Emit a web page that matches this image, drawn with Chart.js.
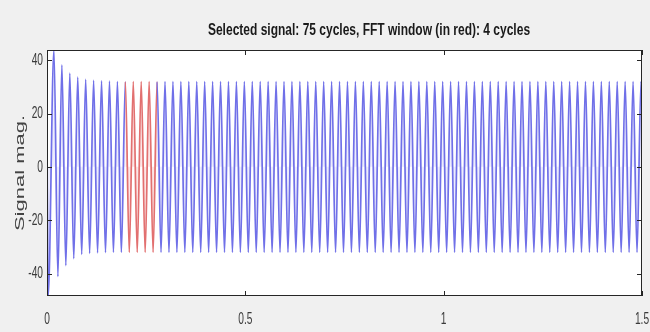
<!DOCTYPE html>
<html><head><meta charset="utf-8">
<script src="https://cdn.jsdelivr.net/npm/chart.js@4"></script>
<style>html,body{margin:0;padding:0;background:#f0f0f0;overflow:hidden}canvas{display:block}</style>
</head><body>
<canvas id="c" width="650" height="332"></canvas>
<script>
// ---- data ----
const titleText = 'Selected signal: 75 cycles, FFT window (in red): 4 cycles';
const yAxisLabel = 'Signal mag.';
const xTickValues = [0, 0.5, 1, 1.5];
const xTickLabels = ['0', '0.5', '1', '1.5'];
const yTickValues = [-40, -20, 0, 20, 40];
const yTickLabels = ['-40', '-20', '0', '20', '40'];
const xRange = [0, 1.5];
const yRange = [-48.4, 43.8];
const cyclePeriod = 0.02;          // 50 Hz, 75 cycles in 1.5 s
const firstPeakTime = 0.0175;
const firstTroughTime = 0.0275;
const fftWindow = [0.2, 0.28];     // 4 cycles drawn in red
const startTimes = [0, 0.003];
const startValues = [5, -48.4];
const peakValues = [
  43.8, 38.2, 35.1, 33.6, 32.8, 32.4, 32.2, 32.1, 32.0, 32.0,
  32, 32, 32, 32, 32, 32, 32, 32, 32, 32,
  32, 32, 32, 32, 32, 32, 32, 32, 32, 32,
  32, 32, 32, 32, 32, 32, 32, 32, 32, 32,
  32, 32, 32, 32, 32, 32, 32, 32, 32, 32,
  32, 32, 32, 32, 32, 32, 32, 32, 32, 32,
  32, 32, 32, 32, 32, 32, 32, 32, 32, 32,
  32, 32, 32, 32, 32
];
const troughValues = [
  -41.1, -37.0, -34.4, -32.8, -32.4, -32.2, -32.1, -32.0, -32.0, -32.0,
  -32, -32, -32, -32, -32, -32, -32, -32, -32, -32,
  -32, -32, -32, -32, -32, -32, -32, -32, -32, -32,
  -32, -32, -32, -32, -32, -32, -32, -32, -32, -32,
  -32, -32, -32, -32, -32, -32, -32, -32, -32, -32,
  -32, -32, -32, -32, -32, -32, -32, -32, -32, -32,
  -32, -32, -32, -32, -32, -32, -32, -32, -32, -32,
  -32, -32, -32, -32
];
const endTime = 1.5, endValue = 27;

// ---- build the point table ----
const points = [];
startTimes.forEach((t, i) => points.push({x: t, y: startValues[i]}));
peakValues.forEach((v, k) => {
  points.push({x: firstPeakTime + k * cyclePeriod, y: v});
  if (k < troughValues.length) points.push({x: firstTroughTime + k * cyclePeriod, y: troughValues[k]});
});
points.push({x: endTime, y: endValue});

const BLUE = '#7070e8';
const RED = '#e27070';
const BLUE_TINT = 'rgba(130,130,240,0.14)';
const RED_TINT = 'rgba(240,130,130,0.2)';

// ---- text squash (reference text is horizontally compressed) ----
const canvas = document.getElementById('c');
const ctx = canvas.getContext('2d');
const nativeFillText = ctx.fillText;
ctx.fillText = function (text, x, y, maxWidth) {
  const s = /bold/.test(this.font) ? 0.75 : 0.6;
  const m = this.getTransform();
  const px = m.a * x + m.c * y + m.e;
  this.save();
  this.setTransform(new DOMMatrix().translate(px, 0).scale(s, 1).translate(-px, 0).multiply(m));
  if (maxWidth === undefined) nativeFillText.call(this, text, x, y);
  else nativeFillText.call(this, text, x, y, maxWidth);
  this.restore();
};

const inWindow = c => {
  const mid = (c.p0.parsed.x + c.p1.parsed.x) / 2;
  return mid >= fftWindow[0] && mid <= fftWindow[1];
};

const frame = {
  id: 'frame',
  afterLayout(chart) {
    if (chart.titleBlock) { chart.titleBlock.left = 88; chart.titleBlock.right = 650; }
  },
  beforeDraw(chart) {
    const {ctx, chartArea: a} = chart;
    ctx.save();
    ctx.fillStyle = '#f0f0f0';
    ctx.fillRect(0, 0, chart.width, chart.height);
    ctx.fillStyle = '#ffffff';
    ctx.fillRect(a.left, a.top, a.right - a.left, a.bottom - a.top);
    ctx.restore();
  },
  afterDatasetsDraw(chart) {
    const {ctx, chartArea: a, scales: {x, y}} = chart;
    ctx.save();
    ctx.strokeStyle = '#262626';
    ctx.lineWidth = 1;
    ctx.beginPath();
    xTickValues.forEach(v => {
      const px = Math.round(x.getPixelForValue(v)) + 0.5;
      ctx.moveTo(px, a.bottom); ctx.lineTo(px, a.bottom - 5);
      ctx.moveTo(px, a.top); ctx.lineTo(px, a.top + 5);
    });
    yTickValues.forEach(v => {
      const py = Math.round(y.getPixelForValue(v)) + 0.5;
      ctx.moveTo(a.left, py); ctx.lineTo(a.left + 5, py);
      ctx.moveTo(a.right, py); ctx.lineTo(a.right - 5, py);
    });
    ctx.stroke();
    ctx.strokeRect(a.left + 0.5, a.top + 0.5, a.right - a.left - 1, a.bottom - a.top - 1);
    ctx.restore();
  }
};

new Chart(ctx, {
  type: 'line',
  data: {
    datasets: [{
      data: points,
      borderColor: BLUE,
      backgroundColor: BLUE_TINT,
      borderWidth: 1.7,
      pointRadius: 0,
      fill: 'origin',
      cubicInterpolationMode: 'monotone',
      segment: {
        borderColor: c => inWindow(c) ? RED : undefined,
        backgroundColor: c => inWindow(c) ? RED_TINT : undefined
      }
    }]
  },
  options: {
    responsive: false,
    devicePixelRatio: 1,
    animation: false,
    layout: {padding: {left: 0, right: 8, top: 0, bottom: 0}},
    plugins: {
      legend: {display: false},
      tooltip: {enabled: false},
      title: {
        display: true,
        text: titleText,
        color: '#1a1a1a',
        font: {family: 'Liberation Sans, Arial, sans-serif', size: 16, weight: 'bold'},
        padding: {top: 21.4, bottom: 9.4}
      }
    },
    scales: {
      x: {
        type: 'linear',
        min: xRange[0], max: xRange[1],
        border: {display: false},
        grid: {display: false, drawTicks: false},
        afterBuildTicks: s => { s.ticks = xTickValues.map(v => ({value: v})); },
        afterFit: s => { s.height = 36; s.paddingLeft = 0; s.paddingRight = 0; },
        ticks: {
          padding: 13,
          maxRotation: 0,
          autoSkip: false,
          color: '#3a3a3a',
          font: {family: 'Liberation Sans, Arial, sans-serif', size: 17},
          callback: (v) => xTickLabels[xTickValues.indexOf(v)]
        }
      },
      y: {
        type: 'linear',
        min: yRange[0], max: yRange[1],
        border: {display: false},
        grid: {display: false, drawTicks: false},
        afterBuildTicks: s => { s.ticks = yTickValues.map(v => ({value: v})); },
        afterFit: s => { s.width = 47; s.paddingTop = 0; s.paddingBottom = 0; },
        ticks: {
          padding: 4,
          autoSkip: false,
          color: '#3a3a3a',
          font: {family: 'Liberation Sans, Arial, sans-serif', size: 17},
          callback: (v) => yTickLabels[yTickValues.indexOf(v)]
        },
        title: {
          display: true,
          text: yAxisLabel,
          color: '#444444',
          font: {family: 'Liberation Sans, Arial, sans-serif', size: 22},
          padding: {top: 6.8, bottom: 0}
        }
      }
    }
  },
  plugins: [frame]
});
</script>
</body></html>
